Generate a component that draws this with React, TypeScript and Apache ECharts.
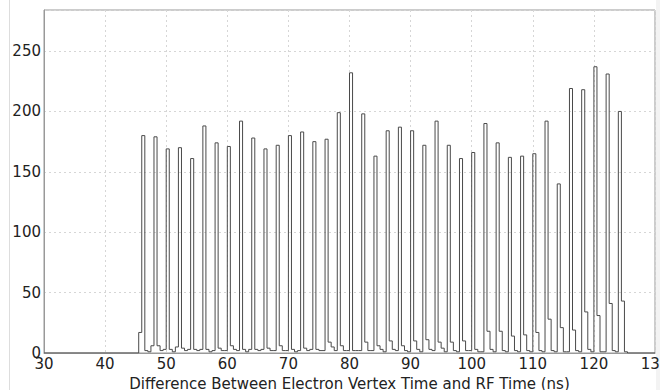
import React, { useEffect, useRef } from "react";
import * as echarts from "echarts";

// Peak (tall bin) left edges, ns
const peakStarts = [46, 48, 50, 52, 54, 56, 58, 60, 62, 64, 66, 68, 70, 72, 74, 76, 78, 80, 82, 84, 86, 88, 90, 92, 94, 96, 98, 100, 102, 104, 106, 108, 110, 112, 114, 116, 118, 120, 122, 124];
// Tall bin counts
const peakCounts = [180, 179, 169, 170, 161, 188, 174, 171, 192, 178, 169, 172, 180, 183, 175, 177, 199, 232, 198, 163, 184, 187, 184, 172, 192, 172, 161, 166, 190, 174, 162, 163, 165, 192, 140, 219, 218, 237, 231, 200];
// Bin just before the peak (p - 0.5)
const preCounts = [17, 6, 3, 5, 3, 3, 2, 2, 2, 3, 3, 2, 2, 2, 3, 2, 2, 2, 2, 2, 1, 2, 1, 1, 2, 1, 1, 2, 1, 1, 1, 1, 1, 1, 1, 1, 1, 1, 1, 1];
// Bin right after the peak (p + 0.5)
const post1Counts = [2, 6, 3, 4, 3, 3, 4, 6, 3, 3, 4, 6, 3, 4, 3, 9, 6, 2, 9, 6, 10, 6, 10, 11, 9, 9, 10, 3, 18, 18, 14, 15, 17, 28, 21, 19, 34, 31, 41, 43];
// Second bin after the peak (p + 1.0)
const post2Counts = [1, 2, 1, 2, 2, 1, 2, 3, 1, 2, 2, 2, 1, 2, 2, 5, 2, 2, 2, 3, 3, 2, 3, 3, 4, 2, 2, 1, 3, 2, 2, 2, 2, 2, 1, 2, 3, 1, 2, 1];

const binWidth = 0.5;
const xMin = 30;
const xMax = 130;
const yTicks = [0, 50, 100, 150, 200, 250];

function buildHistogram(): [number, number][] {
  const pts: [number, number][] = [[xMin, 0]];
  peakStarts.forEach((p, i) => {
    pts.push([p - binWidth, preCounts[i]]);
    pts.push([p, peakCounts[i]]);
    pts.push([p + binWidth, post1Counts[i]]);
    pts.push([p + 2 * binWidth, post2Counts[i]]);
  });
  const last = peakStarts[peakStarts.length - 1];
  pts.push([last + 3 * binWidth, 0]);
  pts.push([xMax, 0]);
  return pts;
}

export default function App() {
  const ref = useRef<HTMLDivElement>(null);
  useEffect(() => {
    if (!ref.current) return;
    const chart = echarts.init(ref.current, null, { renderer: "svg" });
    const font = "DejaVu Sans";
    chart.setOption({
      animation: false,
      backgroundColor: "#ffffff",
      textStyle: { fontFamily: font },
      grid: {
        left: 44,
        right: 5,
        top: 10,
        bottom: 37,
        containLabel: false,
        outerBoundsMode: "none",
        show: true,
        borderColor: "#999",
        borderWidth: 1,
        backgroundColor: "transparent",
      },
      xAxis: {
        type: "value",
        min: xMin,
        max: xMax,
        interval: 10,
        name: "Difference Between Electron Vertex Time and RF Time (ns)",
        nameLocation: "middle",
        nameGap: 20,
        nameTextStyle: { fontFamily: font, fontSize: 15, lineHeight: 16, color: "#222" },
        axisLine: { show: true, lineStyle: { color: "#999", width: 1 } },
        axisTick: { show: false },
        axisLabel: {
          fontFamily: font,
          fontSize: 15,
          color: "#222",
          margin: 3,
          alignMinLabel: "center",
          alignMaxLabel: "center",
        },
        splitLine: { show: true, lineStyle: { color: "#d6d6d6", type: [2, 3], width: 1 } },
      },
      yAxis: {
        type: "value",
        min: yTicks[0],
        max: 284,
        interval: 50,
        axisLine: { show: true, lineStyle: { color: "#999", width: 1 } },
        axisTick: { show: false },
        axisLabel: { fontFamily: font, fontSize: 15, color: "#222", margin: 3, showMaxLabel: false },
        splitLine: { show: true, lineStyle: { color: "#d6d6d6", type: [2, 3], width: 1 } },
      },
      graphic: [
        { type: "line", shape: { x1: 9.5, y1: 0, x2: 9.5, y2: 390 }, style: { stroke: "#dddddd", lineWidth: 1 }, silent: true },
        { type: "rect", shape: { x: 656, y: 0, width: 4, height: 390 }, style: { fill: "#f3f3f3" }, silent: true, z: -1 },
      ],
      series: [
        {
          type: "line",
          step: "end",
          data: buildHistogram(),
          showSymbol: false,
          symbol: "none",
          lineStyle: { color: "#4a4a4a", width: 1 },
          z: 3,
        },
      ],
    });
    return () => chart.dispose();
  }, []);
  return (
    <div
      ref={ref}
      style={{ position: "fixed", left: 0, top: 0, width: 660, height: 390, background: "#fff" }}
    />
  );
}
